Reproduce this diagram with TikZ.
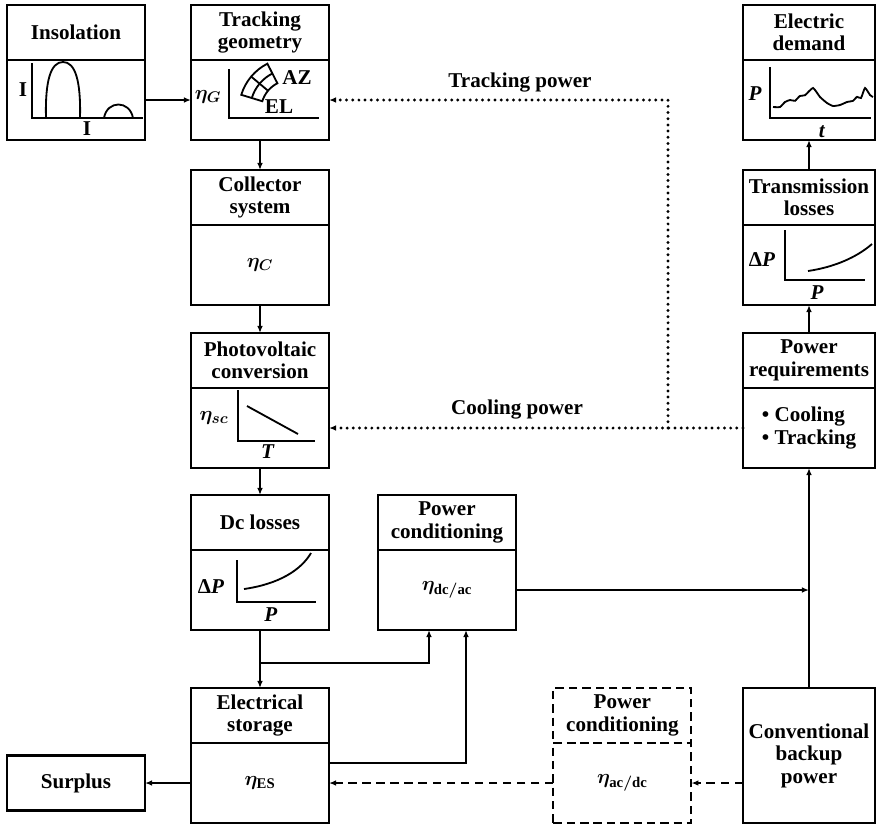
\documentclass[tikz,border=0pt]{standalone}
\usepackage{fontspec}
\setmainfont{Liberation Serif}
\usetikzlibrary{arrows.meta,positioning}

\newcommand\blockfont{\fontsize{15}{16}\selectfont\bfseries\boldmath}

\tikzset{
  head/.style={draw, line width=1.8pt, minimum width=3.45cm, minimum height=1.375cm,
    inner sep=1pt, outer sep=0pt, align=center},
  body/.style={draw, line width=1.8pt, minimum width=3.45cm, minimum height=2cm,
    inner sep=1pt, outer sep=0pt, align=center, below=0pt of #1},
  narrow/.style={minimum width=3.3cm},
  optional/.style={dash pattern=on 6pt off 3.5pt, line width=1.5pt},
  flow/.style={line width=1.2pt, -{Latex[length=5pt,width=4pt]}},
  dotflow/.style={line width=2.3pt, line cap=round, dash pattern=on 0pt off 4.4pt,
    -{Latex[length=5pt,width=4pt]}},
  dashflow/.style={line width=1.3pt, dash pattern=on 6pt off 4pt,
    -{Latex[length=5pt,width=4pt]}},
  axes/.style={line width=1.4pt},
  curve/.style={line width=1.3pt},
}

\begin{document}
\begin{tikzpicture}[font=\blockfont]
\useasboundingbox (0,0) rectangle (21.95,-20.625);

% top row
\node[head, anchor=north] (insh) at (1.9,-0.125) {Insolation};
\node[body=insh] (insb) {};
\node[head, anchor=north] (tgh) at (6.5,-0.125) {Tracking\\geometry};
\node[body=tgh] (tgb) {};
\node[head, narrow, anchor=north] (edh) at (20.225,-0.125) {Electric\\demand};
\node[body=edh, narrow] (edb) {};

% second row
\node[head, anchor=north] (csh) at (6.5,-4.25) {Collector\\system};
\node[body=csh] (csb) {$\eta_C$};
\node[head, narrow, anchor=north] (tlh) at (20.225,-4.25) {Transmission\\losses};
\node[body=tlh, narrow] (tlb) {};

% third row
\node[head, anchor=north] (pvh) at (6.5,-8.325) {Photovoltaic\\conversion};
\node[body=pvh] (pvb) {};
\node[head, narrow, anchor=north] (prh) at (20.225,-8.325) {Power\\requirements};
\node[body=prh, narrow, align=left] (prb) {• Cooling\\• Tracking};

% fourth row
\node[head, anchor=north] (dch) at (6.5,-12.375) {Dc losses};
\node[body=dch] (dcb) {};
\node[head, anchor=north] (pch) at (11.175,-12.375) {Power\\conditioning};
\node[body=pch] (pcb) {$\eta_{\mathrm{dc/ac}}$};

% bottom row
\node[head, anchor=north] (esh) at (6.5,-17.2) {Electrical\\storage};
\node[body=esh] (esb) {$\eta_{\mathrm{ES}}$};
\node[head, optional, anchor=north] (pdh) at (15.56,-17.2) {Power\\conditioning};
\node[body=pdh, optional] (pdb) {$\eta_{\mathrm{ac/dc}}$};
\node[head, narrow, minimum height=3.375cm, anchor=north] (cbp) at (20.225,-17.2) {Conventional\\backup\\power};
\node[head] (sur) at (1.9,-19.575) {Surplus};

% small graphs inside the boxes
\begin{scope}[shift={(insb.north west)}]
  \draw[axes] (0.625,-0.075) |- (3.4,-1.45);
  \draw[curve] (0.975,-1.45) .. controls (0.95,-0.5) and (1.1,-0.05) .. (1.4,-0.05)
    .. controls (1.7,-0.05) and (1.85,-0.5) .. (1.825,-1.45);
  \draw[curve] (2.425,-1.45) .. controls (2.5,-1.0) and (3.07,-1.0) .. (3.15,-1.45);
  \node (insy) at (0.4,-0.75) {I};
  \node (insx) at (2.0,-1.72) {I};
\end{scope}

\begin{scope}[shift={(tgb.north west)}]
  \draw[axes] (0.95,-0.225) |- (3.2,-1.45);
  \node (tgeta) at (0.425,-0.925) {$\eta_G$};
  \begin{scope}[shift={(2.5,-1.25)}, curve]
    \draw (117:0.75) arc[start angle=117, end angle=163, radius=0.75]
      -- (163:1.3) arc[start angle=163, end angle=117, radius=1.3] -- cycle;
    \draw (140:0.75) -- (140:1.3);
    \draw (117:1.025) arc[start angle=117, end angle=163, radius=1.025];
  \end{scope}
  \node (tgaz) at (2.65,-0.45) {AZ};
  \node (tgel) at (2.2,-1.175) {EL};
\end{scope}

\begin{scope}[shift={(pvb.north west)}]
  \draw[axes] (1.175,-0.05) |- (3.1,-1.325);
  \draw[curve] (1.4,-0.45) -- (2.675,-1.15);
  \node (pveta) at (0.575,-0.75) {$\eta_{sc}$};
  \node (pvx) at (1.925,-1.6) {\textit{T}};
\end{scope}

\begin{scope}[shift={(dcb.north west)}]
  \draw[axes] (1.15,-0.25) |- (3.125,-1.3);
  \draw[curve] (1.325,-0.975) .. controls (2.2,-0.85) and (2.75,-0.5) .. (3.0,-0.075);
  \node (dcy) at (0.5,-0.925) {Δ\textit{P}};
  \node (dcx) at (2.0,-1.625) {\textit{P}};
\end{scope}

\begin{scope}[shift={(tlb.north west)}]
  \draw[axes] (1.05,-0.125) |- (3.05,-1.375);
  \draw[curve] (1.625,-1.15) .. controls (2.3,-1.05) and (2.85,-0.8) .. (3.225,-0.475);
  \node (tly) at (0.475,-0.875) {Δ\textit{P}};
  \node (tlx) at (1.85,-1.7) {\textit{P}};
\end{scope}

\begin{scope}[shift={(edb.north west)}]
  \draw[axes] (0.675,-0.175) |- (3.2,-1.45);
  \draw[curve] plot[smooth, tension=0.3] coordinates {(0.75,-1.175) (0.925,-1.175)
    (1.05,-1.05) (1.175,-1.0) (1.3,-1.02) (1.42,-0.9) (1.55,-0.88) (1.75,-0.7)
    (1.925,-0.925) (2.1,-1.075) (2.25,-1.15) (2.425,-1.125) (2.6,-1.05) (2.75,-1.02)
    (2.85,-0.92) (2.95,-0.95) (3.05,-0.7) (3.175,-0.875) (3.25,-0.925)};
  \node (edy) at (0.3,-0.85) {\textit{P}};
  \node (edx) at (1.975,-1.8) {\textit{t}};
\end{scope}

% main power path
\draw[flow] (insb.east) -- (tgb.west);
\draw[flow] (tgb.south) -- (csh.north);
\draw[flow] (csb.south) -- (pvh.north);
\draw[flow] (pvb.south) -- (dch.north);
\coordinate (split) at (6.5,-16.575);
\draw[flow] (dcb.south) -- (esh.north);
\draw[flow] (split) -| ([xshift=-0.45cm]pcb.south);
\draw[flow] ([yshift=0.5cm]esb.east) -| ([xshift=0.475cm]pcb.south);
\draw[flow] (esb.west) -- (esb.west -| sur.east);
\draw[flow] (pcb.east) -- (pcb.east -| cbp.north);
\draw[flow] (cbp.north) -- (prb.south);
\draw[flow] (prh.north) -- (tlb.south);
\draw[flow] (tlh.north) -- (edb.south);

% back-up path
\draw[dashflow] (pdb.east -| cbp.west) -- (pdb.east);
\draw[dashflow] (pdb.west) -- (pdb.west -| esb.east);

% auxiliary loads
\coordinate (tap) at (16.7,0);
\draw[dotflow] (prb.west) -- (pvb.east);
\draw[dotflow] (tap |- prb.west) |- (tgb.east);
\node (trlab) at (13.0,-2.075) {Tracking power};
\node (colab) at (12.925,-10.225) {Cooling power};
\end{tikzpicture}
\end{document}
